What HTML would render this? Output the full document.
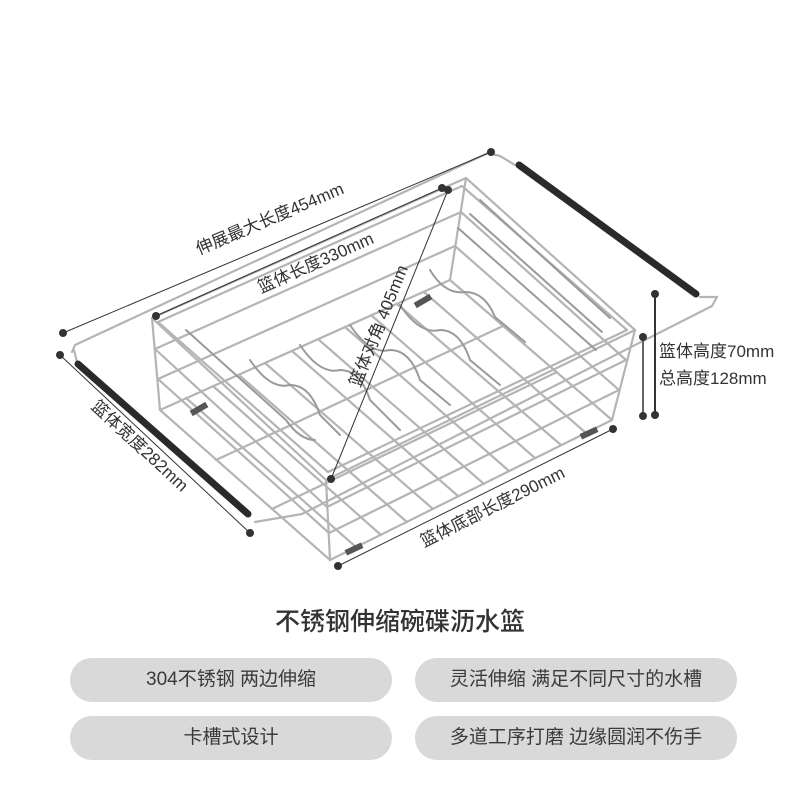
<!DOCTYPE html>
<html><head><meta charset="utf-8"><style>
body{margin:0;background:#fff;width:800px;height:800px;overflow:hidden;font-family:"Liberation Sans","Noto Sans CJK SC",sans-serif}
.t{position:absolute;left:0;top:0}
.pill{position:absolute;height:44px;border-radius:22px;background:#d9d9d9;color:#3a3a3a;font-size:19px;line-height:44px;text-align:center;font-family:"Liberation Sans","Noto Sans CJK SC",sans-serif}
</style></head><body>
<svg class="t" width="800" height="800" viewBox="0 0 800 800" font-family="Liberation Sans, Noto Sans CJK SC, sans-serif">
<g fill="none" stroke="#b4b4b4" stroke-width="2.2" stroke-linecap="round" stroke-linejoin="round">
<polyline points="72,352 75,345 488,153 500,156 515,165"/>
<polyline points="255,522 302,514 712,306 717,297 700,297"/>
<polyline points="74,350 77,362"/>
<line x1="160" y1="410" x2="330" y2="560"/><line x1="186" y1="398" x2="356" y2="547"/>
<line x1="213" y1="386" x2="381" y2="535"/><line x1="239" y1="375" x2="407" y2="522"/>
<line x1="265" y1="363" x2="433" y2="509"/><line x1="292" y1="351" x2="458" y2="496"/>
<line x1="318" y1="339" x2="484" y2="484"/><line x1="345" y1="327" x2="509" y2="471"/>
<line x1="371" y1="315" x2="535" y2="458"/><line x1="397" y1="304" x2="561" y2="445"/>
<line x1="424" y1="292" x2="586" y2="433"/><line x1="450" y1="280" x2="612" y2="420"/>
<line x1="160" y1="410" x2="450" y2="280"/><line x1="216" y1="460" x2="503" y2="326"/>
<line x1="272" y1="509" x2="557" y2="372"/><line x1="330" y1="560" x2="612" y2="420"/>
<polygon points="152,318 466,178 635,330 326,480"/>
<polygon points="158,322 462,186 627,330 328,472"/>
<line x1="152" y1="318" x2="160" y2="410"/><line x1="466" y1="178" x2="450" y2="280"/>
<line x1="635" y1="330" x2="612" y2="420"/><line x1="326" y1="480" x2="330" y2="560"/>
<line x1="327" y1="507" x2="626" y2="360"/><line x1="329" y1="533" x2="619" y2="390"/>
<line x1="155" y1="349" x2="327" y2="507"/><line x1="158" y1="379" x2="329" y2="533"/>
<line x1="155" y1="349" x2="461" y2="212"/><line x1="158" y1="379" x2="455" y2="246"/>
<line x1="461" y1="212" x2="626" y2="360"/><line x1="455" y1="246" x2="619" y2="390"/>
</g>
<g fill="none" stroke="#9a9a9a" stroke-width="2" stroke-linecap="round">
<path d="M186,330 L286,420 Q300,440 315,440"/>
<path d="M480,200 L610,318"/><path d="M470,214 L602,332"/><path d="M458,228 L596,350"/>
<path d="M250,360 q20,30 40,25 q20,0 30,30 l20,20"/>
<path d="M300,345 q20,30 40,25 q20,0 30,30 l30,30"/>
<path d="M350,325 q20,30 40,25 q20,0 30,30 l30,25"/>
<path d="M400,305 q20,30 40,25 q20,0 30,30 l30,25"/>
<path d="M430,270 q15,25 35,22 q20,0 30,25 l30,25"/>
</g>
<g stroke="#2a2a2a" stroke-width="7" stroke-linecap="round">
<line x1="78" y1="364" x2="248" y2="514"/>
<line x1="519" y1="165" x2="696" y2="294"/>
</g>
<g fill="#555"><rect x="414" y="298" width="18" height="6" transform="rotate(-30 423 301)"/><rect x="190" y="406" width="18" height="6" transform="rotate(-30 199 409)"/><rect x="345" y="546" width="18" height="6" transform="rotate(-25 354 549)"/><rect x="580" y="430" width="18" height="6" transform="rotate(-25 589 433)"/></g>
<g stroke="#333" stroke-width="1" fill="#333">
<line x1="63" y1="333" x2="491" y2="152"/><circle cx="63" cy="333" r="3.5"/><circle cx="491" cy="152" r="3.5"/>
<line x1="156" y1="316" x2="442" y2="188"/><circle cx="156" cy="316" r="3.5"/><circle cx="442" cy="188" r="3.5"/>
<line x1="331" y1="479" x2="448" y2="190"/><circle cx="331" cy="479" r="3.5"/><circle cx="448" cy="190" r="3.5"/>
<line x1="60" y1="355" x2="250" y2="533"/><circle cx="60" cy="355" r="3.5"/><circle cx="250" cy="533" r="3.5"/>
<line x1="338" y1="566" x2="613" y2="429"/><circle cx="338" cy="566" r="3.5"/><circle cx="613" cy="429" r="3.5"/>
<line x1="643" y1="337" x2="643" y2="416" stroke="#666" stroke-width="2"/><circle cx="643" cy="337" r="3.5"/><circle cx="643" cy="416" r="3.5"/>
<line x1="655" y1="294" x2="655" y2="415" stroke-width="2"/><circle cx="655" cy="294" r="3.5"/><circle cx="655" cy="415" r="3.5"/>
</g>
<g fill="#333" font-size="17" text-anchor="middle">
<text transform="translate(272,224) rotate(-23)">伸展最大长度454mm</text>
<text transform="translate(318,268) rotate(-24)">篮体长度330mm</text>
<text transform="translate(384,328) rotate(-68)">篮体对角 405mm</text>
<text transform="translate(136,450) rotate(43)">篮体宽度282mm</text>
<text transform="translate(495,512) rotate(-26.5)">篮体底部长度290mm</text>
<text x="659" y="357" text-anchor="start">篮体高度70mm</text>
<text x="659" y="384" text-anchor="start">总高度128mm</text>
</g>
<text x="400" y="630" text-anchor="middle" font-size="25" font-weight="500" fill="#333">不锈钢伸缩碗碟沥水篮</text>
</svg>
<div class="pill" style="left:70px;top:658px;width:322px">304不锈钢 两边伸缩</div>
<div class="pill" style="left:70px;top:716px;width:322px">卡槽式设计</div>
<div class="pill" style="left:415px;top:658px;width:322px">灵活伸缩 满足不同尺寸的水槽</div>
<div class="pill" style="left:415px;top:716px;width:322px">多道工序打磨 边缘圆润不伤手</div>
</body></html>
